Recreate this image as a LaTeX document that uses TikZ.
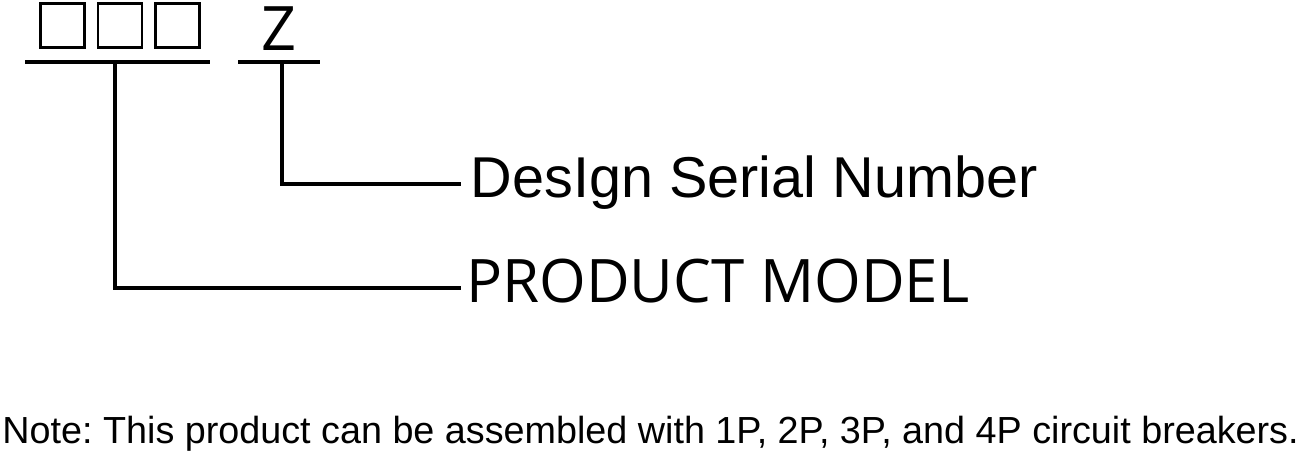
\documentclass[tikz,border=0pt]{standalone}
\usepackage{fontspec}
\setmainfont{Liberation Sans}
\newfontfamily\opensans{Open Sans}
\usepackage{tikz}
\frenchspacing

\tikzset{
  codebox/.style={draw, line width=1.7pt, minimum size=33pt, inner sep=0pt},
  bar/.style={line width=3pt},
  lead/.style={line width=3pt}
}

\begin{document}
\begin{tikzpicture}[x=0.75pt,y=0.75pt,yscale=-1,xscale=1]
\path[use as bounding box] (0,0) rectangle (1304,454);

%Code boxes
\node [codebox] (box1) at (62.5,25.5) {};
\node [codebox] (box2) at (120,25.5) {};
\node [codebox] (box3) at (177.5,25.5) {};
% Text Node
\node [anchor=base west, inner sep=0pt] (zed) at (261,50) {\opensans\fontsize{46}{54}\selectfont Z};

%Underlines
\coordinate (modelL) at (25,62);
\coordinate (modelR) at (210,62);
\coordinate (serialL) at (238,62);
\coordinate (serialR) at (320,62);
\draw [bar] (modelL) -- (modelR);
\draw [bar] (serialL) -- (serialR);

%Lead lines
\coordinate (modelTap) at (115,62);
\coordinate (serialTap) at (282,62);
\coordinate (serialEnd) at (461,184);
\coordinate (modelEnd) at (461,288);
\draw [lead] (serialTap) |- (serialEnd);
\draw [lead] (modelTap) |- (modelEnd);

% Text Node
\node [anchor=base west, inner sep=0pt] (serial) at (470.5,197) {\fontsize{43.2}{50}\selectfont DesIgn Serial Number};
% Text Node
\node [anchor=base west, inner sep=0pt] (model) at (466,302) {\opensans\fontsize{45}{54}\selectfont PRODUCT MODEL};
% Text Node
\node [anchor=base west, inner sep=0pt] (note) at (2.2,443) {\fontsize{28.3}{33}\selectfont Note: This product can be assembled with 1P, 2P, 3P, and 4P circuit breakers.};

\end{tikzpicture}
\end{document}
